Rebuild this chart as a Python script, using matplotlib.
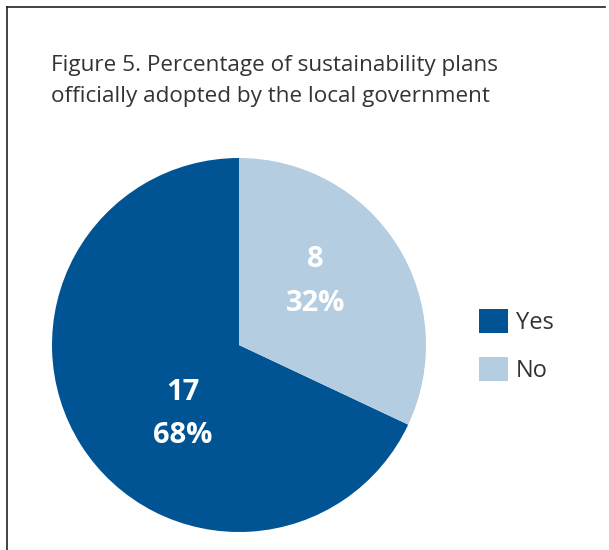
import matplotlib
matplotlib.use("Agg")
import matplotlib.pyplot as plt
from matplotlib.lines import Line2D

labels = ["Yes", "No"]
counts = [17, 8]
percents = [68, 32]
colors = ["#005493", "#b5cde0"]
title = "Figure 5. Percentage of sustainability plans\nofficially adopted by the local government"

plt.rcParams['font.family'] = ['Open Sans', 'DejaVu Sans']

W, H = 609, 550
fig = plt.figure(figsize=(W / 100, H / 100), dpi=100)

# partial frame (top and left edges)
fig.add_artist(Line2D([7 / W, 7 / W], [0, 1 - 7 / H], transform=fig.transFigure,
                      color="#222222", lw=1.2))
fig.add_artist(Line2D([7 / W, 605 / W], [1 - 7 / H, 1 - 7 / H], transform=fig.transFigure,
                      color="#222222", lw=1.2))

fig.text(51 / W, 1 - 55 / H, title, fontsize=16.2, color="#333333",
         va="top", ha="left", linespacing=1.6)

ax = fig.add_axes([52 / W, (H - 532) / H, 374 / W, 374 / H])
wedges, _ = ax.pie(counts, colors=colors, startangle=90, counterclock=True,
                   radius=1)
ax.set_xlim(-1, 1)
ax.set_ylim(-1, 1)
ax.set_aspect("equal")
ax.axis("off")

label_pos = [(-0.30, -0.37), (0.41, 0.34)]
for (x, y), c, p in zip(label_pos, counts, percents):
    ax.text(x, y, f"{c}\n{p}%", color="white", fontsize=21, fontweight="bold",
            ha="center", va="center", linespacing=1.65)

fig.legend(wedges, labels, loc="upper left", bbox_to_anchor=(458 / W, 1 - 288 / H),
           frameon=False, fontsize=17, handlelength=1.2, handleheight=1.2,
           labelspacing=0.9, handletextpad=0.35, labelcolor="#333333")

fig.savefig("out.png", dpi=100)
